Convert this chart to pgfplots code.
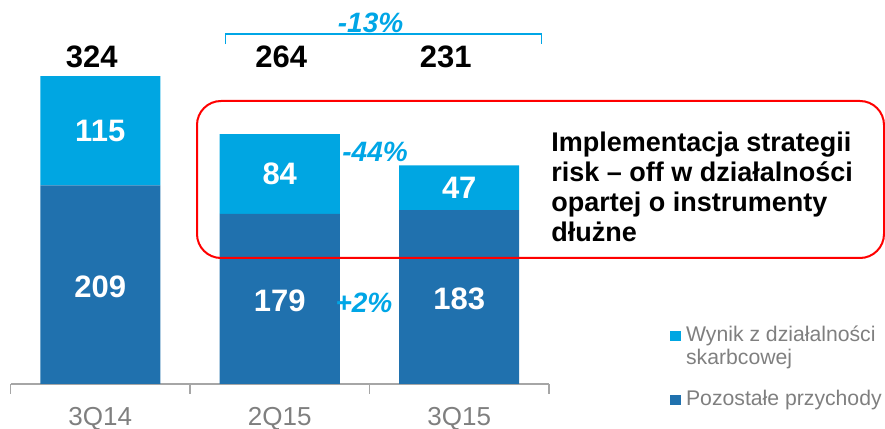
\documentclass[border=0pt]{standalone}
\usepackage{fontspec}
\setmainfont{Liberation Sans}
\usepackage{pgfplots}
\pgfplotsset{compat=1.18}
\definecolor{lblue}{HTML}{00A6E2}
\definecolor{dblue}{HTML}{2071AE}
\definecolor{pct}{HTML}{00A6E6}
\definecolor{txtgray}{HTML}{7F7F7F}
\definecolor{axgray}{HTML}{A6A6A6}
\tikzset{
  inbar/.style={font=\fontsize{15.5}{18}\selectfont\bfseries, text=white},
  total/.style={font=\fontsize{15.5}{18}\selectfont\bfseries, text=black, anchor=base, inner sep=0pt},
  pctlab/.style={font=\fontsize{14}{16}\selectfont\bfseries\itshape, text=pct},
  boxtxt/.style={font=\fontsize{13.5}{15.5}\selectfont\bfseries, anchor=base west, inner sep=0pt},
  legtxt/.style={font=\fontsize{10.6}{12}\selectfont, text=txtgray, anchor=base west, inner sep=0pt},
}
\begin{document}
\begin{tikzpicture}
\useasboundingbox (0,0) rectangle (442.5pt,214.5pt);
\begin{axis}[
  at={(5.25pt,22.5pt)}, anchor=south west,
  scale only axis, width=269.25pt, height=192pt,
  xmin=-0.5, xmax=2.5, ymin=0, ymax=404,
  ybar stacked, bar width=60pt,
  axis y line=none, axis x line=bottom,
  x axis line style={-, axgray, line width=0.75pt},
  xtick={0,1,2}, xticklabels={3Q14,2Q15,3Q15},
  tick align=outside,
  major tick length=0pt,
  minor xtick={-0.5,0.5,1.5,2.5}, minor tick length=5pt,
  every minor tick/.style={axgray, line width=0.75pt},
  xticklabel style={font=\fontsize{13}{15}\selectfont, text=txtgray, inner sep=0pt, yshift=-11.6pt},
  clip=false,
]
\addplot[fill=dblue, draw=none] coordinates {(0,209) (1,179) (2,183)};
\addplot[fill=lblue, draw=none] coordinates {(0,115) (1,84) (2,47)};
\coordinate (a1) at (axis cs:0,102);
\coordinate (a2) at (axis cs:0,266.5);
\coordinate (b1) at (axis cs:1,88);
\coordinate (b2) at (axis cs:1,221);
\coordinate (c1) at (axis cs:2,89.5);
\coordinate (c2) at (axis cs:2,206.5);
\node[total] at (axis cs:-0.047,333.5) {324};
\node[total] at (axis cs:1.008,333.5) {264};
\node[total] at (axis cs:1.925,333.5) {231};
\coordinate (p1) at (axis cs:1.469,85);
\node[pctlab] at (axis cs:1.531,244) {-44\%};
\node[pctlab] at (axis cs:1.506,380) {-13\%};
\draw[pct, line width=0.8pt] (axis cs:0.697,357.7) -- (axis cs:0.697,368) -- (axis cs:2.458,368) -- (axis cs:2.458,357.7);
\end{axis}
\node[inbar] at (a1) {209};
\node[inbar] at (a2) {115};
\node[inbar] at (b1) {179};
\node[inbar] at (b2) {84};
\node[inbar] at (c1) {183};
\node[inbar] at (c2) {47};
\node[pctlab] at (p1) {+2\%};
\begin{scope}[x=0.5pt,y=-0.5pt,yshift=214.5pt]
\draw[red, line width=1pt, rounded corners=12pt] (197,101) rectangle (884,258);
\node[boxtxt] at (551,152) {Implementacja strategii};
\node[boxtxt] at (551,182) {risk – off w działalności};
\node[boxtxt] at (551,212) {opartej o instrumenty};
\node[boxtxt] at (551,242) {dłużne};
\fill[lblue] (670,331) rectangle (680.7,341);
\fill[dblue] (670,395) rectangle (680.7,405);
\node[legtxt] at (685.7,341.7) {Wynik z działalności};
\node[legtxt] at (685.7,365) {skarbcowej};
\node[legtxt] at (685.7,405) {Pozostałe przychody};
\end{scope}
\end{tikzpicture}
\end{document}
